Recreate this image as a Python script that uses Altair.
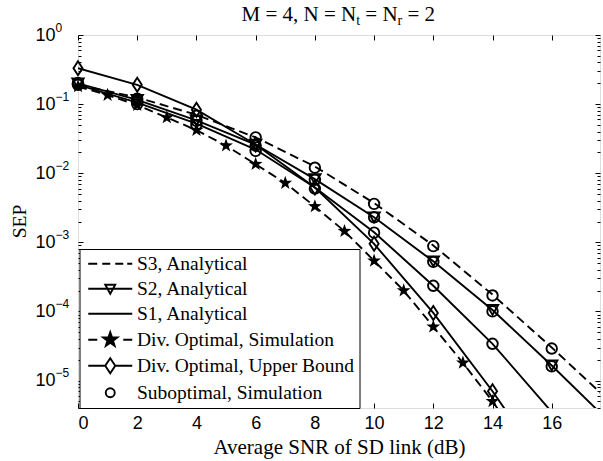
import math
import altair as alt
import pandas as pd

# ---------------- data ----------------
S3_X = [0, 2, 4, 6, 8, 10, 12, 14, 16, 18]
S3_Y = [0.19, 0.125, 0.07, 0.033, 0.0125, 0.0037, 9.0e-4, 1.75e-4, 3.0e-5, 4.8e-6]

S2_X = [0, 2, 4, 6, 8, 10, 12, 14, 16, 18]
S2_Y = [0.2, 0.115, 0.058, 0.026, 0.0082, 0.0023, 5.3e-4, 1.05e-4, 1.65e-5, 2.4e-6]

S1_X = [0, 2, 4, 6, 8, 10, 12, 14, 16]
S1_Y = [0.19, 0.105, 0.052, 0.022, 0.0062, 0.0014, 2.35e-4, 3.4e-5, 3.5e-6]

DSIM_X = [0, 1, 2, 3, 4, 5, 6, 7, 8, 9, 10, 11, 12, 13, 14, 15]
DSIM_Y = [0.18, 0.135, 0.097, 0.064, 0.042, 0.025, 0.0135, 0.0072, 0.0033,
          0.00145, 5.4e-4, 2.0e-4, 6.0e-5, 1.8e-5, 5.0e-6, 1.2e-6]

DUB_X = [0, 2, 4, 6, 8, 10, 12, 14, 16]
DUB_Y = [0.33, 0.19, 0.083, 0.026, 0.0062, 9.5e-4, 9.5e-5, 7.0e-6, 4.0e-7]

SUB3_X = [0, 2, 4, 6, 8, 10, 12, 14, 16]
SUB3_Y = [0.2, 0.12, 0.068, 0.033, 0.012, 0.0036, 8.8e-4, 1.7e-4, 2.9e-5]
SUB2_X = [0, 2, 4, 6, 8, 10, 12, 14, 16]
SUB2_Y = [0.2, 0.11, 0.057, 0.025, 0.008, 0.0023, 5.2e-4, 1.0e-4, 1.6e-5]
SUB1_X = [0, 2, 4, 6, 8, 10, 12, 14]
SUB1_Y = [0.19, 0.1, 0.05, 0.021, 0.006, 0.00138, 2.35e-4, 3.4e-5]

X_TICKS = [0, 2, 4, 6, 8, 10, 12, 14, 16]
Y_DECADES = [1, 1e-1, 1e-2, 1e-3, 1e-4, 1e-5]
X_DOMAIN = [0, 17.63]
Y_DOMAIN = [4.0e-6, 1.0]

LEGEND_NAMES = ["S3, Analytical", "S2, Analytical", "S1, Analytical",
                "Div. Optimal, Simulation", "Div. Optimal, Upper Bound",
                "Suboptimal, Simulation"]
# title "M = 4, N = N_t = N_r = 2" in pieces (normal, subscript, normal, subscript, normal)
TITLE_PIECES = ["M = 4, N = N", "t", " = N", "r", " = 2"]

# ---------------- tables ----------------
def frame(xs, ys, name):
    return pd.DataFrame({"snr": xs, "sep": ys, "series": name})

def visible(df):
    return df[(df["sep"] >= Y_DOMAIN[0]) & (df["snr"] <= X_DOMAIN[1])]

dashed_df = pd.concat([frame(S3_X, S3_Y, "S3"), frame(DSIM_X, DSIM_Y, "DivSim")])
solid_df = pd.concat([frame(S2_X, S2_Y, "S2"), frame(S1_X, S1_Y, "S1"),
                      frame(DUB_X, DUB_Y, "DivUB")])
star_df = visible(frame(DSIM_X, DSIM_Y, "DivSim"))
tri_df = visible(frame(S2_X, S2_Y, "S2"))
dia_df = visible(frame(DUB_X, DUB_Y, "DivUB"))
circ_df = visible(pd.concat([frame(SUB3_X, SUB3_Y, "sub3"), frame(SUB2_X, SUB2_Y, "sub2"),
                             frame(SUB1_X, SUB1_Y, "sub1")]))
legend_df = pd.DataFrame({"snr": [-5.0] * len(LEGEND_NAMES), "sep": [0.1] * len(LEGEND_NAMES),
                          "series": LEGEND_NAMES})

MINOR = []
for d in range(-6, 0):
    for k in range(2, 10):
        v = k * 10.0 ** d
        if Y_DOMAIN[0] <= v <= Y_DOMAIN[1]:
            MINOR.append(v)

# ---------------- shapes ----------------
def star_path(scale=1.0, cx=0.0):
    pts = []
    for i in range(10):
        r = (1.0 if i % 2 == 0 else 0.4) * scale
        a = -math.pi / 2 + i * math.pi / 5
        pts.append(f"{cx + r * math.cos(a):.3f},{r * math.sin(a):.3f}")
    return "M" + "L".join(pts) + "Z"

STAR = star_path()
DIAMOND = "M0,-1L0.65,0L0,1L-0.65,0Z"

LEG_PATHS = [
    "M-4.4,0L-2.6,0M-1.6,0L0,0M1,0L2.6,0M3.4,0L4.4,0",
    "M-4.4,0L4.4,0M-1,-0.8L1,-0.8L0,1Z",
    "M-4.4,0L4.4,0",
    "M-4.4,0L-2.6,0M2.6,0L4.4,0" + star_path(1.5),
    "M-4.4,0L-1,0M1,0L4.4,0M0,-1.5L1,0L0,1.5L-1,0Z",
    "M-0.9,0A0.9,0.9,0,1,1,0.9,0A0.9,0.9,0,1,1,-0.9,0Z",
]
LEG_FILL = ["white", "white", "white", "black", "white", "white"]
LEG_STROKE = ["black"] * 6

SANS = "Liberation Sans"
SERIF = "Liberation Serif"
LW = 1.9

xs = alt.Scale(domain=X_DOMAIN, nice=False, zero=False)
ys = alt.Scale(type="log", domain=Y_DOMAIN, nice=False)

def enc(xaxis, yaxis):
    return dict(
        x=alt.X("snr:Q", scale=xs, axis=xaxis),
        y=alt.Y("sep:Q", scale=ys, axis=yaxis),
    )

# axes
ax_x_labels = alt.Axis(orient="bottom", values=X_TICKS, ticks=False, tickSize=0, domain=False,
                       grid=False, labelFont=SANS, labelFontSize=18, labelColor="black",
                       labelPadding=6, title="Average SNR of SD link (dB)", titleFont=SERIF,
                       titleFontSize=21, titleFontWeight="normal", titleColor="black",
                       titlePadding=4)
ax_x_bottom_ticks = alt.Axis(orient="bottom", values=X_TICKS, labels=False, domain=False, grid=False,
                             ticks=True, tickSize=5, tickColor="black", tickWidth=1, offset=-5,
                             title=None)
ax_x_top_ticks = alt.Axis(orient="top", values=X_TICKS, labels=False, domain=False, grid=False,
                          ticks=True, tickSize=5, tickColor="black", tickWidth=1, offset=-5,
                          title=None)
ax_y_base = alt.Axis(orient="left", values=Y_DECADES, labelExpr="'10'", ticks=False, tickSize=0,
                     domain=False, grid=False, labelFont=SANS, labelFontSize=18,
                     labelColor="black", labelAlign="right", labelBaseline="middle",
                     labelPadding=23, title="SEP", titleFont=SERIF, titleFontSize=19.5,
                     titleFontWeight="normal", titleColor="black", titleAngle=-90,
                     titleBaseline="middle", titleX=-59, titleY=186)
ax_y_exp = alt.Axis(orient="left", values=Y_DECADES,
                    labelExpr="replace('' + round(log(datum.value) / LN10), '-', '\u2212')",
                    ticks=False, tickSize=0, domain=False, grid=False, labelFont=SANS,
                    labelFontSize=12, labelColor="black", labelAlign="left",
                    labelBaseline="middle", labelPadding=23, labelOffset=-8, title=None)
ax_y_left_major = alt.Axis(orient="left", values=Y_DECADES, labels=False, domain=False, grid=False,
                           ticks=True, tickSize=5, tickColor="black", tickWidth=1, offset=-5,
                           title=None)
ax_y_left_minor = alt.Axis(orient="left", values=MINOR, labels=False, domain=False, grid=False,
                           ticks=True, tickSize=3, tickColor="black", tickWidth=1, offset=-3,
                           title=None)
ax_y_right_major = alt.Axis(orient="right", values=Y_DECADES, labels=False, domain=False, grid=False,
                            ticks=True, tickSize=5, tickColor="black", tickWidth=1, offset=-5,
                            title=None)
ax_y_right_minor = alt.Axis(orient="right", values=MINOR, labels=False, domain=False, grid=False,
                            ticks=True, tickSize=3, tickColor="black", tickWidth=1, offset=-3,
                            title=None)

dashed = alt.Chart(dashed_df).mark_line(color="black", strokeWidth=LW, strokeDash=[9, 5],
                                         clip=True).encode(
    detail="series:N", **enc(ax_x_labels, ax_y_base))
solid = alt.Chart(solid_df).mark_line(color="black", strokeWidth=LW, clip=True).encode(
    detail="series:N", **enc(ax_x_bottom_ticks, ax_y_exp))
stars = alt.Chart(star_df).mark_point(shape=STAR, filled=True, color="black", size=210,
                                      opacity=1).encode(
    **enc(ax_x_top_ticks, ax_y_left_major))
tris = alt.Chart(tri_df).mark_point(shape="triangle-down", filled=False, color="black", size=130,
                                    strokeWidth=LW, opacity=1).encode(
    **enc(None, ax_y_left_minor))
dias = alt.Chart(dia_df).mark_point(shape=DIAMOND, filled=False, color="black", size=196,
                                    strokeWidth=LW, opacity=1).encode(
    **enc(None, ax_y_right_major))
circs = alt.Chart(circ_df).mark_point(shape="circle", filled=False, color="black", size=110,
                                      strokeWidth=LW, opacity=1).encode(
    **enc(None, ax_y_right_minor))

leg = alt.Legend(orient="none", legendX=1.5, legendY=214, title=None, labelFont=SERIF,
                 labelFontSize=19.5, labelColor="black", labelLimit=400, symbolSize=100,
                 symbolStrokeColor="black", symbolStrokeWidth=LW, symbolOffset=16,
                 labelOffset=17, rowPadding=4, padding=5, strokeColor="black",
                 fillColor="white", cornerRadius=0)
legend_layer = alt.Chart(legend_df).mark_point(filled=True, strokeWidth=LW,
                                               opacity=1, clip=True).encode(
    shape=alt.Shape("series:N", scale=alt.Scale(domain=LEGEND_NAMES, range=LEG_PATHS),
                    legend=leg, sort=LEGEND_NAMES),
    fill=alt.Fill("series:N", scale=alt.Scale(domain=LEGEND_NAMES, range=LEG_FILL),
                  legend=leg, sort=LEGEND_NAMES),
    stroke=alt.Stroke("series:N", scale=alt.Scale(domain=LEGEND_NAMES, range=LEG_STROKE),
                      legend=leg, sort=LEGEND_NAMES),
    **enc(None, None))

# title, drawn as text pieces so that the subscripts are real subscripts
TITLE_FS = 21
SUB_FS = 14
WIDTHS = {"M": 0.889, " ": 0.25, "=": 0.564, "4": 0.5, ",": 0.25, "N": 0.722,
          "t": 0.278, "r": 0.333, "2": 0.5}
title_layers = []
pos = 163.5
for i, piece in enumerate(TITLE_PIECES):
    is_sub = i % 2 == 1
    fs = SUB_FS if is_sub else TITLE_FS
    lead = len(piece) - len(piece.lstrip(" "))
    pos += lead * WIDTHS[" "] * fs          # SVG drops leading blanks, so skip them here
    text = piece.lstrip(" ")
    title_layers.append(
        alt.Chart(pd.DataFrame({"t": [text]})).mark_text(
            align="left", baseline="alphabetic", font=SERIF, fontSize=fs, color="black"
        ).encode(x=alt.value(pos), y=alt.value(-10 if is_sub else -14), text="t:N")
    )
    pos += sum(WIDTHS.get(c, 0.5) for c in text) * fs

chart = alt.layer(dashed, solid, stars, tris, dias, circs, legend_layer, *title_layers).resolve_axis(
    x="independent", y="independent"
).properties(
    width=522, height=373,
    padding={"left": 78, "top": 35, "right": 3, "bottom": 53},
    autosize=alt.AutoSizeParams(type="none"),
).configure_view(stroke="black", strokeWidth=1.2).configure(background="white")

chart.save("out.html", embed_options={"renderer": "svg", "actions": False})
